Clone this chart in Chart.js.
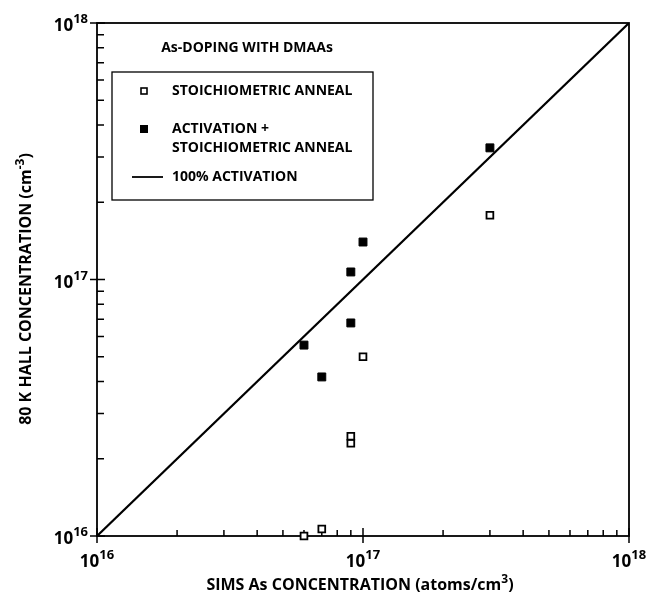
<!DOCTYPE html>
<html>
<head>
<meta charset="utf-8">
<script src="https://cdn.jsdelivr.net/npm/chart.js@4/dist/chart.umd.min.js"></script>
<style>
  html, body { margin: 0; padding: 0; background: #fff; }
  #wrap { width: 649px; height: 599px; position: relative; }
</style>
</head>
<body>
<div id="wrap"><canvas id="chart"></canvas></div>
<script>
/* ---------- data (cm^-3) ---------- */
var stoichX = [6e16, 7e16, 9e16, 9e16, 1e17, 3e17];
var stoichY = [1.0e16, 1.065e16, 2.3e16, 2.45e16, 5.0e16, 1.78e17];
var activX = [6e16, 7e16, 9e16, 9e16, 1e17, 3e17];
var activY = [5.55e16, 4.17e16, 6.77e16, 1.07e17, 1.4e17, 3.26e17];
var lineX = [1e16, 1e18];
var lineY = [1e16, 1e18];
var decades = [16, 17, 18];
var minorSteps = [2, 3, 4, 5, 6, 7, 8, 9];

var FONT = "'Open Sans', 'DejaVu Sans', sans-serif";

function pairs(xs, ys) {
  return xs.map(function (x, i) { return { x: x, y: ys[i] }; });
}

/* text with a raised exponent, e.g. 10^17 */
function supText(ctx, base, sup, tail, x, y, size, align) {
  var f1 = 'bold ' + size + 'px ' + FONT;
  var f2 = 'bold ' + Math.round(size * 0.78) + 'px ' + FONT;
  ctx.font = f1; var w1 = ctx.measureText(base).width;
  ctx.font = f2; var w2 = ctx.measureText(sup).width;
  ctx.font = f1; var w3 = tail ? ctx.measureText(tail).width : 0;
  var total = w1 + w2 + w3;
  var x0 = align === 'center' ? x - total / 2 : align === 'right' ? x - total : x;
  ctx.textAlign = 'left';
  ctx.textBaseline = 'alphabetic';
  ctx.font = f1; ctx.fillText(base, x0, y);
  ctx.font = f2; ctx.fillText(sup, x0 + w1, y - size * 0.45);
  if (tail) { ctx.font = f1; ctx.fillText(tail, x0 + w1 + w2, y); }
}

var framePlugin = {
  id: 'frame',
  beforeDatasetsDraw: function (chart) {
    var ctx = chart.ctx, a = chart.chartArea;
    var xs = chart.scales.x, ys = chart.scales.y;
    ctx.save();
    ctx.strokeStyle = '#000';
    ctx.fillStyle = '#000';
    ctx.lineWidth = 1.8;
    ctx.strokeRect(a.left, a.top, a.right - a.left, a.bottom - a.top);

    ctx.lineWidth = 1.5;
    ctx.beginPath();
    decades.forEach(function (d, i) {
      var v = Math.pow(10, d);
      var px = xs.getPixelForValue(v), py = ys.getPixelForValue(v);
      ctx.moveTo(px, a.bottom + 7); ctx.lineTo(px, a.bottom - 8);
      ctx.moveTo(a.left - 7, py); ctx.lineTo(a.left + 8, py);
      if (i < decades.length - 1) {
        minorSteps.forEach(function (m) {
          var mv = m * v;
          var mx = xs.getPixelForValue(mv), my = ys.getPixelForValue(mv);
          ctx.moveTo(mx, a.bottom); ctx.lineTo(mx, a.bottom - 6);
          ctx.moveTo(a.left, my); ctx.lineTo(a.left + 7, my);
        });
      }
    });
    ctx.stroke();

    /* tick labels */
    decades.forEach(function (d) {
      var v = Math.pow(10, d);
      supText(ctx, '10', String(d), '', xs.getPixelForValue(v), a.bottom + 31, 17, 'center');
      supText(ctx, '10', String(d), '', a.left - 9, ys.getPixelForValue(v) + 8, 17, 'right');
    });

    /* axis titles */
    supText(ctx, 'SIMS As CONCENTRATION (atoms/cm', '3', ')', 360, 590, 16, 'center');
    ctx.save();
    ctx.translate(31, 289);
    ctx.rotate(-Math.PI / 2);
    supText(ctx, '80 K HALL CONCENTRATION (cm', '-3', ')', 0, 0, 16, 'center');
    ctx.restore();

    /* legend */
    ctx.font = 'bold 14px ' + FONT;
    ctx.textAlign = 'center';
    ctx.textBaseline = 'middle';
    ctx.fillText('As-DOPING WITH DMAAs', 247, 48);
    ctx.lineWidth = 1.3;
    ctx.strokeRect(112, 72, 261, 128);

    ctx.textAlign = 'left';
    ctx.fillText('STOICHIOMETRIC ANNEAL', 172, 91);
    ctx.fillText('ACTIVATION +', 172, 129);
    ctx.fillText('STOICHIOMETRIC ANNEAL', 172, 148);
    ctx.fillText('100% ACTIVATION', 172, 177);

    ctx.lineWidth = 1.6;
    ctx.fillStyle = '#fff';
    ctx.fillRect(141, 88, 6, 6);
    ctx.strokeRect(141, 88, 6, 6);
    ctx.fillStyle = '#000';
    ctx.fillRect(140, 125, 8, 8);
    ctx.lineWidth = 1.8;
    ctx.beginPath();
    ctx.moveTo(132, 177); ctx.lineTo(163, 177);
    ctx.stroke();
    ctx.restore();
  }
};

new Chart(document.getElementById('chart'), {
  type: 'scatter',
  data: {
    datasets: [
      {
        label: '100% ACTIVATION',
        type: 'line',
        data: pairs(lineX, lineY),
        borderColor: '#000',
        borderWidth: 2.2,
        pointRadius: 0,
        fill: false
      },
      {
        label: 'STOICHIOMETRIC ANNEAL',
        data: pairs(stoichX, stoichY),
        pointStyle: 'rect',
        pointRadius: 4.8,
        backgroundColor: '#fff',
        borderColor: '#000',
        borderWidth: 1.8,
        clip: false
      },
      {
        label: 'ACTIVATION + STOICHIOMETRIC ANNEAL',
        data: pairs(activX, activY),
        pointStyle: 'rect',
        pointRadius: 5.6,
        backgroundColor: '#000',
        borderColor: '#000',
        borderWidth: 1,
        clip: false
      }
    ]
  },
  options: {
    responsive: true,
    maintainAspectRatio: false,
    animation: false,
    layout: { padding: { left: 97, right: 20, top: 23, bottom: 63 } },
    plugins: { legend: { display: false }, tooltip: { enabled: false } },
    scales: {
      x: { type: 'logarithmic', min: 1e16, max: 1e18, display: false },
      y: { type: 'logarithmic', min: 1e16, max: 1e18, display: false }
    }
  },
  plugins: [framePlugin]
});
</script>
</body>
</html>
